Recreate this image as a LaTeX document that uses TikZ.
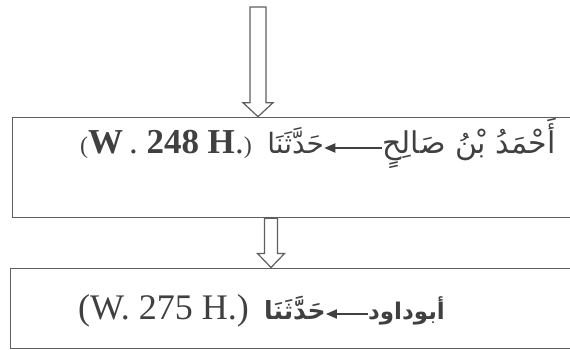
\documentclass[tikz,border=0pt]{standalone}
\usepackage{fontspec}
\setmainfont{Liberation Serif}
\newfontfamily\arabicfont[Script=Arabic]{DejaVu Sans}
\TeXXeTstate=1
\usetikzlibrary{calc,arrows.meta}
\definecolor{linegray}{HTML}{5F5F5F}
\definecolor{textgray}{HTML}{404040}
\begin{document}
\begin{tikzpicture}[x=1pt,y=1pt,
  boxline/.style={draw=linegray, line width=1.3pt, inner sep=0pt},
  blockarrow/.style={draw=linegray, line width=1.2pt, fill=white, line join=miter},
  txt/.style={inner sep=0pt, text=textgray},
  textarrow/.style={draw=textgray, line width=1.8pt, -{Triangle[length=11pt,width=9pt]}}]
\useasboundingbox (0,0) rectangle (570,349);
\clip (0,0) rectangle (570,349);
% boxes
\node[boxline, anchor=north west, minimum width=580pt, minimum height=100.3pt] (box1) at (11.7,232.3) {};
\node[boxline, anchor=north west, minimum width=580pt, minimum height=80.5pt] (box2) at (10,81.5) {};
% top arrow
\coordinate (a1start) at (258,342);
\coordinate (a1end) at (258,232.3);
\draw[blockarrow] ($(a1start)+(-8,0)$) -- ($(a1start)+(8,0)$) -- ($(a1end)+(8,14)$) -- ($(a1end)+(15,14)$) -- (a1end) -- ($(a1end)+(-15,14)$) -- ($(a1end)+(-8,14)$) -- cycle;
% middle arrow
\coordinate (a2start) at (box1.south -| 271,0);
\coordinate (a2end) at (box2.north -| 271,0);
\draw[blockarrow] ($(a2start)+(-6.5,0)$) -- ($(a2start)+(6.5,0)$) -- ($(a2end)+(6.5,14)$) -- ($(a2end)+(13.5,14)$) -- (a2end) -- ($(a2end)+(-13.5,14)$) -- ($(a2end)+(-6.5,14)$) -- cycle;
% box 1 text
\node[txt, anchor=base west, font=\fontsize{35}{40}\selectfont] (lat1) at (80,196) {{\fontsize{24}{28}\selectfont(}\textbf{W}\,. \textbf{248 H}.{\fontsize{24}{28}\selectfont)}};
\node[txt, anchor=base east, font=\arabicfont\fontsize{30}{34}\selectfont] (name1) at (556,196) {\beginR أَحْمَدُ بْنُ صَالِحٍ\endR};
\coordinate (ar1a) at ($(name1.base west)+(0,5)$);
\coordinate (ar1b) at ($(ar1a)+(-58,0)$);
\draw[textarrow] (ar1a) -- (ar1b);
\node[txt, anchor=base east, font=\arabicfont\fontsize{28}{32}\selectfont] (hd1) at ($(ar1b)+(0,-5)$) {\beginR حَدَّثَنَا\endR};
% box 2 text
\node[txt, anchor=base west, font=\fontsize{36}{40}\selectfont] (lat2) at (78,30) {(W. 275 H.)};
\node[txt, anchor=base east, font=\arabicfont\bfseries\fontsize{23}{27}\selectfont] (name2) at (445,30) {\beginR أبوداود\endR};
\coordinate (ar2a) at ($(name2.base west)+(0,5)$);
\coordinate (ar2b) at ($(ar2a)+(-42,0)$);
\draw[textarrow] (ar2a) -- (ar2b);
\node[txt, anchor=base east, font=\arabicfont\bfseries\fontsize{25}{29}\selectfont] (hd2) at ($(ar2b)+(0,-5)$) {\beginR حَدَّثَنَا\endR};
\end{tikzpicture}
\end{document}
